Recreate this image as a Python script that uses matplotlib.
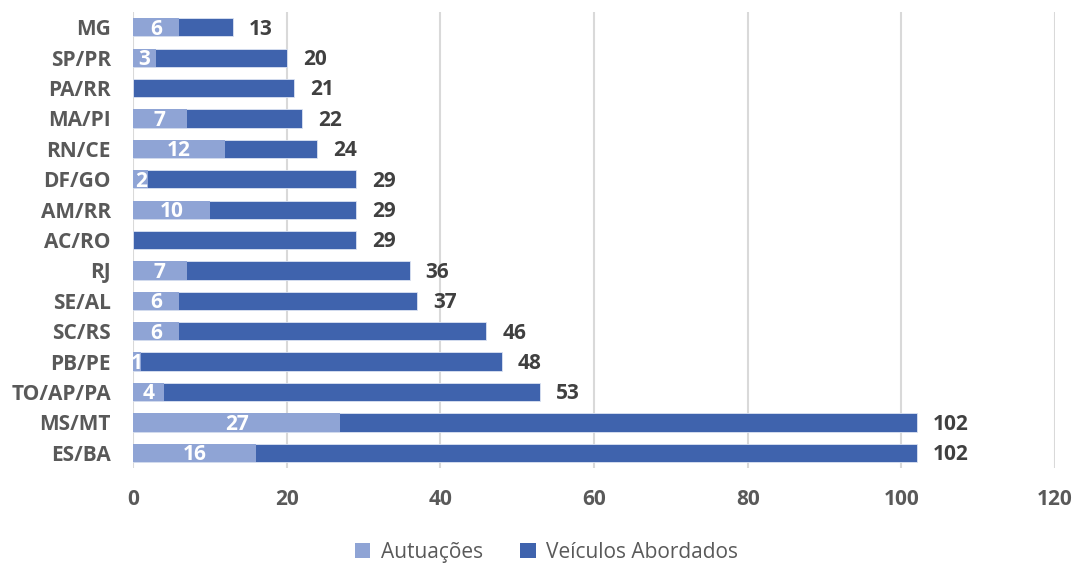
import matplotlib
matplotlib.use("Agg")
import matplotlib.pyplot as plt
from matplotlib.patches import Patch

plt.rcParams['font.family'] = ['Open Sans', 'DejaVu Sans']

categories = ["MG", "SP/PR", "PA/RR", "MA/PI", "RN/CE", "DF/GO", "AM/RR", "AC/RO",
              "RJ", "SE/AL", "SC/RS", "PB/PE", "TO/AP/PA", "MS/MT", "ES/BA"]
veiculos = [13, 20, 21, 22, 24, 29, 29, 29, 36, 37, 46, 48, 53, 102, 102]
autuacoes = [6, 3, 0, 7, 12, 2, 10, 0, 7, 6, 6, 1, 4, 27, 16]
xticks = [0, 20, 40, 60, 80, 100, 120]

dark = "#3F63AD"
light = "#8FA4D5"
grid_c = "#D9D9D9"
text_c = "#595959"
val_c = "#404040"

fig = plt.figure(figsize=(10.82, 5.74), dpi=100)
ax = fig.add_axes([0.1229, 0.1847, 0.8521, 0.7943])

y = list(range(len(categories)))
h = 0.6
ax.barh(y, veiculos, height=h, color=dark, edgecolor="#DCE3F2", linewidth=0.6, zorder=2)
ax.barh(y, autuacoes, height=h, color=light, edgecolor="none", zorder=3)

fs = 15
for yi, v, a in zip(y, veiculos, autuacoes):
    ax.text(v + 2.1, yi + 0.06, str(v), ha="left", va="center", fontsize=fs,
            fontweight="bold", color=val_c, zorder=4)
    if a > 0:
        ax.text(a / 2, yi + 0.06, str(a), ha="center", va="center", fontsize=fs,
                fontweight="bold", color="white", zorder=4)

ax.set_xlim(0, 120)
ax.set_ylim(len(categories) - 0.5, -0.5)
ax.set_xticks(xticks)
ax.set_xticklabels([str(t) for t in xticks])
ax.set_yticks(y)
ax.set_yticklabels(categories)
ax.tick_params(axis="both", length=0, labelsize=fs, labelcolor=text_c)
ax.tick_params(axis="x", pad=15)
ax.tick_params(axis="y", pad=16)
for lab in ax.get_xticklabels() + ax.get_yticklabels():
    lab.set_fontweight("bold")

ax.grid(axis="x", color=grid_c, linewidth=1.5, zorder=0)
ax.set_axisbelow(True)
for s in ax.spines.values():
    s.set_visible(False)

handles = [Patch(facecolor=light, label="Autuações"),
           Patch(facecolor=dark, label="Veículos Abordados")]
fig.legend(handles=handles, loc="center", bbox_to_anchor=(0.505, 0.038), ncol=2,
           frameon=False, fontsize=15, handlelength=0.75, handleheight=0.75,
           handletextpad=0.5, columnspacing=1.8, labelcolor=text_c)

fig.savefig("out.png", dpi=100)
